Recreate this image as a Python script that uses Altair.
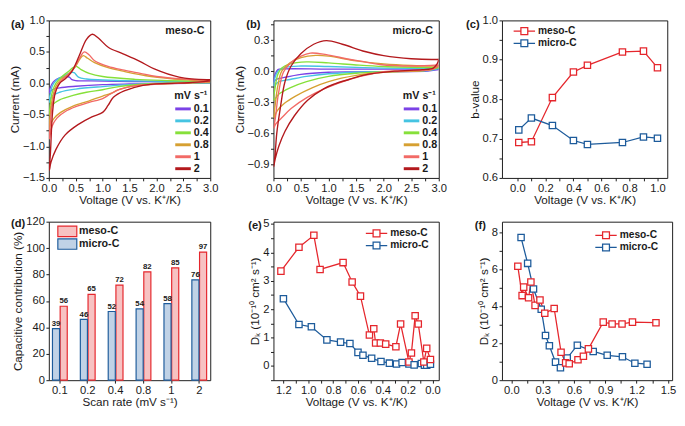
import altair as alt
import pandas as pd

FONT = "Liberation Sans"
INK = "#1a1a1a"
RED = "#e5262c"
BLUE = "#1d5b9b"
RED_TINT = "#f7c2c2"
BLUE_TINT = "#c0d2e6"

RATES = ["0.1", "0.2", "0.4", "0.8", "1", "2"]
RATE_COLORS = ["#7b42e6", "#45c4e2", "#86e03a", "#d6a032", "#f26a66", "#b3191d"]

# ---- (a) meso-C CV loops: (V, I) from 3.0 V down to 0 V and back up ----
MESO_01 = [(3.0, 0.005), (1.5, -0.01), (1.0, -0.02), (0.5, -0.045), (0.2, -0.07), (0.06, -0.1), (0.01, -0.15),
           (0.03, -0.06), (0.08, 0.02), (0.15, 0.07), (0.25, 0.1), (0.33, 0.11), (0.38, 0.1), (0.43, 0.06),
           (0.5, 0.045), (0.8, 0.04), (1.5, 0.03), (3.0, 0.02)]
MESO_02 = [(3.0, 0.01), (2.0, 0.0), (1.5, -0.02), (1.0, -0.05), (0.5, -0.09), (0.2, -0.14), (0.06, -0.2), (0.01, -0.3),
           (0.03, -0.15), (0.07, -0.03), (0.15, 0.06), (0.28, 0.12), (0.4, 0.17), (0.47, 0.17), (0.55, 0.1),
           (0.7, 0.07), (1.0, 0.055), (1.6, 0.04), (3.0, 0.025)]
MESO_04 = [(3.0, 0.015), (1.9, -0.005), (1.3, -0.05), (1.0, -0.1), (0.7, -0.14), (0.45, -0.19), (0.2, -0.26),
           (0.08, -0.33), (0.02, -0.42), (0.01, -0.5),
           (0.03, -0.3), (0.07, -0.12), (0.13, 0.0), (0.22, 0.09), (0.35, 0.18), (0.45, 0.25), (0.51, 0.27),
           (0.6, 0.22), (0.75, 0.16), (1.0, 0.11), (1.6, 0.065), (2.2, 0.045), (3.0, 0.03)]
MESO_08 = [(3.0, 0.02), (2.2, -0.005), (1.6, -0.035), (1.3, -0.1), (1.15, -0.16), (1.0, -0.2), (0.74, -0.28),
           (0.45, -0.36), (0.22, -0.46), (0.1, -0.55), (0.03, -0.65), (0.01, -0.75),
           (0.03, -0.45), (0.07, -0.22), (0.13, -0.05), (0.22, 0.06), (0.35, 0.14), (0.48, 0.25), (0.58, 0.39),
           (0.64, 0.44), (0.72, 0.4), (0.85, 0.33), (1.1, 0.25), (1.4, 0.19), (1.9, 0.11), (2.5, 0.06), (3.0, 0.04)]
MESO_1 = [(3.0, 0.03), (2.5, 0.005), (2.0, -0.01), (1.6, -0.04), (1.3, -0.1), (1.12, -0.18), (1.0, -0.24),
          (0.75, -0.3), (0.5, -0.37), (0.3, -0.45), (0.15, -0.55), (0.06, -0.68), (0.01, -0.88),
          (0.03, -0.6), (0.07, -0.3), (0.13, -0.1), (0.22, 0.03), (0.32, 0.11), (0.45, 0.22), (0.57, 0.4),
          (0.66, 0.5), (0.75, 0.45), (0.85, 0.36), (1.1, 0.27), (1.4, 0.21), (1.7, 0.16), (2.0, 0.11),
          (2.5, 0.07), (3.0, 0.05)]
MESO_2 = [(3.0, 0.04), (2.6, 0.01), (2.2, 0.0), (1.75, -0.03), (1.4, -0.12), (1.2, -0.22), (1.1, -0.35),
          (1.0, -0.46), (0.8, -0.53), (0.55, -0.65), (0.3, -0.82), (0.13, -1.05), (0.04, -1.25), (0.01, -1.38),
          (0.03, -1.1), (0.07, -0.45), (0.12, -0.15), (0.2, 0.0), (0.3, 0.07), (0.42, 0.18), (0.56, 0.43),
          (0.7, 0.7), (0.81, 0.78), (0.92, 0.72), (1.11, 0.57), (1.38, 0.47), (1.69, 0.35), (1.96, 0.23),
          (2.42, 0.1), (2.94, 0.058), (3.0, 0.06)]

# ---- (b) micro-C CV loops ----
MICRO_01 = [(3.0, 0.015), (2.8, 0.002), (1.0, -0.01), (0.5, -0.03), (0.2, -0.06), (0.05, -0.08), (0.005, -0.1),
            (0.03, -0.03), (0.08, 0.015), (0.2, 0.022), (1.0, 0.02), (2.0, 0.02), (3.0, 0.02)]
MICRO_02 = [(3.0, 0.025), (2.8, 0.005), (1.5, -0.01), (1.0, -0.025), (0.6, -0.05), (0.3, -0.08), (0.1, -0.1),
            (0.005, -0.14),
            (0.03, -0.06), (0.08, 0.0), (0.2, 0.035), (0.5, 0.05), (1.0, 0.045), (2.0, 0.03), (3.0, 0.025)]
MICRO_04 = [(3.0, 0.035), (2.8, 0.01), (2.0, -0.005), (1.5, -0.02), (1.0, -0.05), (0.6, -0.1), (0.3, -0.16),
            (0.1, -0.22), (0.005, -0.28),
            (0.03, -0.16), (0.08, -0.03), (0.15, 0.03), (0.3, 0.07), (0.6, 0.09), (1.0, 0.08), (1.5, 0.06),
            (2.0, 0.045), (3.0, 0.035)]
MICRO_08 = [(3.0, 0.045), (2.8, 0.01), (2.0, -0.01), (1.5, -0.04), (1.0, -0.1), (0.7, -0.16), (0.4, -0.24),
            (0.2, -0.31), (0.07, -0.38), (0.005, -0.45),
            (0.03, -0.33), (0.08, -0.14), (0.15, 0.0), (0.3, 0.08), (0.5, 0.13), (0.77, 0.152), (1.0, 0.145),
            (1.5, 0.1), (2.0, 0.07), (2.5, 0.055), (3.0, 0.05)]
MICRO_1 = [(3.0, 0.06), (2.9, 0.02), (2.5, 0.005), (2.0, -0.005), (1.66, -0.04), (1.37, -0.08), (0.96, -0.16),
           (0.62, -0.25), (0.32, -0.36), (0.15, -0.45), (0.04, -0.51), (0.005, -0.55),
           (0.035, -0.45), (0.09, -0.22), (0.18, -0.01), (0.32, 0.085), (0.5, 0.145), (0.67, 0.175),
           (0.96, 0.16), (1.37, 0.115), (1.66, 0.09), (1.93, 0.065), (2.51, 0.05), (3.0, 0.06)]
MICRO_2 = [(3.0, 0.11), (2.97, 0.07), (2.9, 0.03), (2.7, 0.015), (2.2, 0.0), (1.66, -0.036), (1.37, -0.08),
           (1.1, -0.125), (0.91, -0.17), (0.62, -0.28), (0.38, -0.43), (0.21, -0.58), (0.1, -0.72),
           (0.03, -0.85), (0.005, -0.92),
           (0.03, -0.8), (0.06, -0.6), (0.12, -0.37), (0.21, -0.1), (0.32, 0.05), (0.5, 0.17), (0.73, 0.26),
           (0.96, 0.295), (1.25, 0.26), (1.66, 0.19), (2.0, 0.15), (2.5, 0.12), (2.95, 0.113), (3.0, 0.115)]

MESO_CURVES = [MESO_01, MESO_02, MESO_04, MESO_08, MESO_1, MESO_2]
MICRO_CURVES = [MICRO_01, MICRO_02, MICRO_04, MICRO_08, MICRO_1, MICRO_2]

# ---- (c) b-values ----
BV_X = [0.01, 0.1, 0.25, 0.4, 0.5, 0.75, 0.9, 1.0]
BV_MESO = [0.690, 0.692, 0.804, 0.869, 0.886, 0.920, 0.922, 0.880]
BV_MICRO = [0.722, 0.752, 0.733, 0.695, 0.685, 0.690, 0.704, 0.701]

# ---- (d) capacitive contribution ----
SCAN_RATES = ["0.1", "0.2", "0.4", "0.8", "1", "2"]
CAP_MESO = [56, 65, 72, 82, 85, 97]
CAP_MICRO = [39, 46, 52, 54, 58, 76]

# ---- (e) D_K, discharge ----
E_MESO_V = [1.22, 1.075, 0.955, 0.905, 0.72, 0.647, 0.58, 0.508, 0.473, 0.458, 0.42, 0.377, 0.295, 0.257,
            0.19, 0.17, 0.14, 0.115, 0.07, 0.047, 0.017]
E_MESO_D = [3.34, 4.18, 4.6, 3.4, 3.64, 2.96, 2.46, 1.09, 1.31, 0.81, 0.81, 0.77, 0.68, 1.48,
            0.14, 0.46, 1.77, 1.48, 0.14, 0.62, 0.23]
E_MICRO_V = [1.2, 1.075, 0.975, 0.85, 0.74, 0.665, 0.6, 0.56, 0.49, 0.415, 0.347, 0.29, 0.245, 0.19,
             0.148, 0.09, 0.065, 0.047, 0.017]
E_MICRO_D = [2.37, 1.46, 1.38, 0.92, 0.84, 0.79, 0.48, 0.38, 0.27, 0.16, 0.1, 0.07, 0.12, 0.07,
             0.04, 0.09, 0.03, 0.03, 0.06]

# ---- (f) D_K, charge ----
F_MESO_V = [0.062, 0.103, 0.118, 0.165, 0.187, 0.227, 0.274, 0.32, 0.41, 0.476, 0.52, 0.554, 0.638, 0.69,
            0.738, 0.88, 0.965, 1.06, 1.16, 1.385]
F_MESO_D = [6.18, 4.59, 5.05, 4.47, 5.33, 4.06, 4.35, 3.63, 3.89, 1.52, 0.94, 0.89, 1.11, 1.30,
            1.70, 3.15, 3.05, 3.05, 3.15, 3.12]
F_MICRO_V = [0.093, 0.156, 0.212, 0.286, 0.327, 0.364, 0.423, 0.47, 0.535, 0.632, 0.784, 0.918, 1.064, 1.183, 1.3]
F_MICRO_D = [7.74, 6.34, 4.95, 3.85, 2.43, 1.87, 0.98, 0.68, 1.2, 1.9, 1.56, 1.35, 1.27, 0.92, 0.87]

SERIES = ["meso-C", "micro-C"]
VOLT_TITLE = "Voltage (V vs. K⁺/K)"
DK_TITLE = "Dₖ (10⁻¹⁰ cm² s⁻¹)"
LEG_PATH = "M-1,0L-0.32,0M0.32,0L1,0M-0.32,-0.32L0.32,-0.32L0.32,0.32L-0.32,0.32Z"
RECT_PATH = "M-1,-0.55L1,-0.55L1,0.55L-1,0.55Z"


def ticks(lo, hi, step):
    n = int(round((hi - lo) / step))
    return [round(lo + k * step, 4) for k in range(n + 1)]


def qaxis(title, values, major, fmt):
    expr = (f"abs(datum.value / {major} - round(datum.value / {major})) < 0.001"
            f" ? format(datum.value, '{fmt}') : ''")
    return alt.Axis(title=title, values=values, labelExpr=expr, labelOverlap=False, labelFlush=False)


def tag(text, x, y, align="left", size=11.5):
    return alt.Chart(pd.DataFrame({"t": [text]})).mark_text(
        font=FONT, fontSize=size, fontWeight="bold", align=align, baseline="middle", color=INK
    ).encode(x=alt.value(x), y=alt.value(y), text="t:N")


def key_text(df, field, x, y, size=10.5):
    return alt.Chart(df).mark_text(
        font=FONT, fontSize=size, fontWeight="bold", align="left", baseline="middle", color=INK
    ).encode(x=alt.value(x), y=y, text=f"{field}:N")


def rows_scale(n, y0, step):
    return alt.Scale(domain=[0, n - 1], range=[y0, y0 + step * (n - 1)], nice=False, zero=False)


def cv_panel(curves, ydom, yvals, ymajor, label, lx, name, w, h):
    rows = []
    for rate, pts in zip(RATES, curves):
        for i, (v, c) in enumerate(pts):
            rows.append({"rate": rate, "idx": i, "V": v, "I": c})
    df = pd.DataFrame(rows)
    col = alt.Color("rate:N", scale=alt.Scale(domain=RATES, range=RATE_COLORS), legend=None)
    lines = alt.Chart(df).mark_line(interpolate="catmull-rom", strokeWidth=1.4, clip=True).encode(
        x=alt.X("V:Q", scale=alt.Scale(domain=[0, 3], nice=False, zero=False),
                axis=qaxis(VOLT_TITLE, ticks(0, 3, 0.25), 0.5, ".1f")),
        y=alt.Y("I:Q", scale=alt.Scale(domain=ydom, nice=False, zero=False),
                axis=qaxis("Current (mA)", yvals, ymajor, ".1f")),
        color=col,
        order="idx:Q",
    )
    kdf = pd.DataFrame({"rate": RATES, "row": list(range(len(RATES)))})
    ky = alt.Y("row:Q", scale=rows_scale(len(RATES), 91, 12.3), axis=None)
    krule = alt.Chart(kdf).mark_rule(strokeWidth=3).encode(
        x=alt.value(w - 36), x2=alt.value(w - 20), y=ky, color=col)
    key = alt.layer(krule, key_text(kdf, "rate", w - 17, ky, 11))
    return alt.layer(
        lines, key, tag("mV s⁻¹", w - 37, 78, size=11), tag(label, lx, 5), tag(name, w - 6, 11, "right", 11)
    ).resolve_scale(y="independent").properties(width=w, height=h)


def series_df(x1, y1, x2, y2):
    rows = []
    for s, xs, ys in (("meso-C", x1, y1), ("micro-C", x2, y2)):
        for i, (a, b) in enumerate(zip(xs, ys)):
            rows.append({"series": s, "idx": i, "x": a, "y": b})
    return pd.DataFrame(rows)


def line_panel(df, xscale, xaxis, yscale, yaxis, kx, ky0, label, labx, w, h):
    stroke = alt.Stroke("series:N", scale=alt.Scale(domain=SERIES, range=[RED, BLUE]), legend=None)
    base = alt.Chart(df).encode(
        x=alt.X("x:Q", scale=xscale, axis=xaxis),
        y=alt.Y("y:Q", scale=yscale, axis=yaxis),
        stroke=stroke,
        order="idx:Q",
    )
    lines = base.mark_line(strokeWidth=1.3)
    pts = base.mark_point(shape="square", size=42, filled=True, fill="white", strokeWidth=1.3, opacity=1)
    kdf = pd.DataFrame({"series": SERIES, "row": [0, 1]})
    ky = alt.Y("row:Q", scale=rows_scale(2, ky0, 12.5), axis=None)
    ksym = alt.Chart(kdf).mark_point(shape=LEG_PATH, size=484, filled=True, fill="white", strokeWidth=1.3,
                                     opacity=1).encode(x=alt.value(kx + 11), y=ky, stroke=stroke)
    key = alt.layer(ksym, key_text(kdf, "series", kx + 25, ky))
    return alt.layer(alt.layer(lines, pts), key, tag(label, labx, 5)).resolve_scale(
        y="independent").properties(width=w, height=h)


W1, W2, H1, H2 = 166, 170, 162, 163

pa = cv_panel(MESO_CURVES, [-1.5, 1.0], ticks(-1.5, 1.0, 0.25), 0.5, "(a)", -39, "meso-C", W1, H1)
pb = cv_panel(MICRO_CURVES, [-1.03, 0.49], ticks(-0.9, 0.45, 0.15), 0.3, "(b)", -28, "micro-C", W2, H1)

pc = line_panel(
    series_df(BV_X, BV_MESO, BV_X, BV_MICRO),
    alt.Scale(domain=[-0.11, 1.07], nice=False, zero=False), qaxis(VOLT_TITLE, ticks(0, 1.0, 0.1), 0.2, ".1f"),
    alt.Scale(domain=[0.6, 1.0], nice=False, zero=False), qaxis("b-value", ticks(0.6, 1.0, 0.05), 0.1, ".1f"),
    12, 11, "(c)", -37, 170, H1)

# (d) bars
bar_rows = []
for r, m, u in zip(SCAN_RATES, CAP_MESO, CAP_MICRO):
    bar_rows.append({"rate": r, "sample": "meso-C", "value": m})
    bar_rows.append({"rate": r, "sample": "micro-C", "value": u})
bars_df = pd.DataFrame(bar_rows)
bfill = alt.Fill("sample:N", scale=alt.Scale(domain=SERIES, range=[RED_TINT, BLUE_TINT]), legend=None)
bstroke = alt.Stroke("sample:N", scale=alt.Scale(domain=SERIES, range=[RED, BLUE]), legend=None)
bx = alt.X("rate:N", sort=SCAN_RATES, scale=alt.Scale(paddingInner=0.47, paddingOuter=0.13),
           axis=alt.Axis(title="Scan rate (mV s⁻¹)", labelAngle=0))
boff = alt.XOffset("sample:N", sort=["micro-C", "meso-C"], scale=alt.Scale(paddingInner=0.08))
by = alt.Y("value:Q", scale=alt.Scale(domain=[0, 120], nice=False),
           axis=alt.Axis(title="Capacitive contribution (%)", values=ticks(0, 120, 20), labelFlush=False))
bars = alt.Chart(bars_df).mark_bar(strokeWidth=1.2).encode(x=bx, xOffset=boff, y=by, fill=bfill, stroke=bstroke)
bar_text = alt.Chart(bars_df).mark_text(font=FONT, fontSize=8, fontWeight="bold", dy=-5, color=INK).encode(
    x=bx, xOffset=boff, y=by, text="value:Q")
dkdf = pd.DataFrame({"sample": SERIES, "row": [0, 1]})
dky = alt.Y("row:Q", scale=rows_scale(2, 10, 13), axis=None)
dsym = alt.Chart(dkdf).mark_point(shape=RECT_PATH, size=380, filled=True, strokeWidth=1.2, opacity=1).encode(
    x=alt.value(19), y=dky, fill=bfill, stroke=bstroke)
dkey = alt.layer(dsym, key_text(dkdf, "sample", 31, dky, 11))
pd_ = alt.layer(alt.layer(bars, bar_text), dkey, tag("(d)", -39, 2)).resolve_scale(
    y="independent").properties(width=W1, height=H2)

pe = line_panel(
    series_df(E_MESO_V, E_MESO_D, E_MICRO_V, E_MICRO_D),
    alt.Scale(domain=[-0.05, 1.28], reverse=True, nice=False, zero=False),
    qaxis(VOLT_TITLE, ticks(0, 1.2, 0.1), 0.2, ".1f"),
    alt.Scale(domain=[-0.5, 5.08], nice=False, zero=False), qaxis(DK_TITLE, ticks(-0.5, 5, 0.5), 1, ".0f"),
    95, 12, "(e)", -26, W2, H2)

pf = line_panel(
    series_df(F_MESO_V, F_MESO_D, F_MICRO_V, F_MICRO_D),
    alt.Scale(domain=[-0.09, 1.54], nice=False, zero=False), qaxis(VOLT_TITLE, ticks(0, 1.5, 0.15), 0.3, ".1f"),
    alt.Scale(domain=[0, 8.6], nice=False, zero=False), qaxis(DK_TITLE, ticks(0, 8, 1), 2, ".0f"),
    96, 14, "(f)", -28, 175, H2)

chart = alt.concat(
    pa, pb, pc, pd_, pe, pf, columns=3, spacing={"row": 45, "column": 65}, bounds="flush"
).resolve_scale(
    color="independent", stroke="independent", fill="independent", x="independent", y="independent"
).properties(padding=0, background="white").configure_view(
    stroke=INK, strokeWidth=1
).configure_axis(
    labelFont=FONT, titleFont=FONT, labelFontSize=11.5, titleFontSize=12, labelColor=INK, titleColor=INK,
    titleFontWeight="normal", tickColor=INK, tickSize=3, domain=False, grid=False, labelPadding=1.5,
    titlePadding=1
).configure_text(font=FONT)

chart.save("out.html", embed_options={"renderer": "svg", "actions": False})
